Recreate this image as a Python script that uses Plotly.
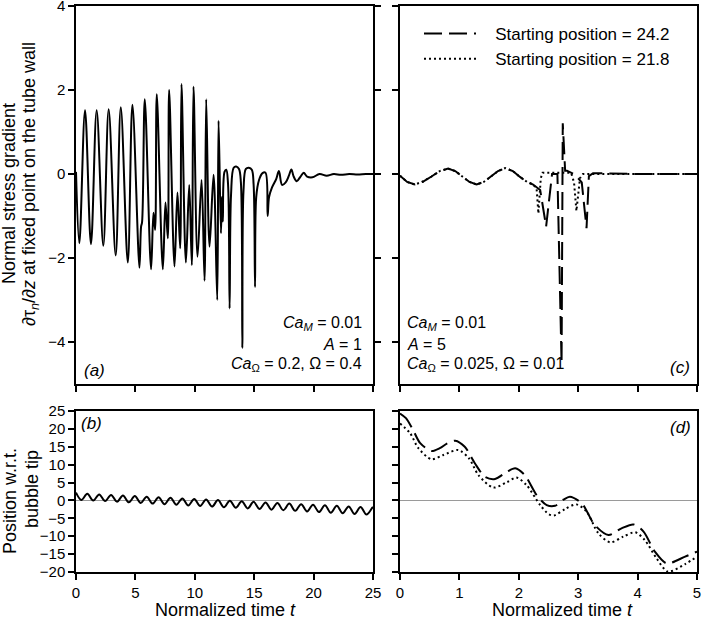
import plotly.graph_objects as go

# ---------------- data ----------------
# Panel (a): normal stress gradient, t in [0, 25]
a_t = [0.00, 0.28, 0.76, 1.26, 1.74, 2.30, 2.75, 3.34, 3.77, 4.36, 4.75, 5.34, 5.48, 5.56, 5.79,
       6.32, 6.52, 6.66, 6.80, 7.31, 7.53, 7.73, 7.84, 8.29, 8.54, 8.77, 8.88, 9.25, 9.53, 9.75, 9.89,
       10.23, 10.57, 10.82, 10.96, 11.24, 11.58, 11.89, 12.00, 12.20, 12.28, 12.36, 12.50, 12.65, 12.80,
       12.93, 13.05, 13.27, 13.48, 13.72, 13.88, 14.00, 14.10, 14.30, 14.55, 14.80, 14.95, 15.07, 15.17,
       15.40, 15.70, 15.95, 16.13, 16.25, 16.50, 16.85, 17.08, 17.35, 17.65, 17.92, 18.13, 18.32, 18.58,
       18.90, 19.17, 19.45, 19.90, 20.50, 21.10, 21.70, 22.30, 23.00, 23.70, 24.40, 25.00]
a_v = [0.05, -1.65, 1.52, -1.67, 1.52, -1.71, 1.54, -1.94, 1.59, -2.11, 1.65, -2.23, -1.25, -1.15, 1.78,
       -2.27, -0.92, -1.33, 1.90, -2.27, -0.68, -1.53, 2.00, -2.20, -0.44, -1.77, 2.14, -2.11, -0.26, -2.17, 2.08,
       -1.97, -0.14, -2.54, 1.78, -1.73, -0.02, -3.00, 1.27, -1.41, -0.55, -1.13, 0.05, 0.10, -0.25,
       -3.20, -0.50, 0.15, 0.18, 0.12, -0.20, -4.14, -0.40, 0.12, 0.15, 0.10, -0.25, -2.69, -0.55,
       -0.15, 0.02, 0.03, -1.00, -0.55, -0.32, -0.12, 0.07, -0.26, -0.20, -0.04, 0.11, -0.06, -0.17,
       -0.06, 0.03, -0.06, -0.08, 0.00, -0.04, 0.00, -0.02, 0.00, -0.01, 0.00, 0.00]

# Panel (b): position w.r.t. bubble tip, t in [0, 25]
b_t = [0.00, 0.45, 0.95, 1.45, 1.95, 2.45, 2.95, 3.45, 3.95, 4.45, 4.95, 5.45, 5.95, 6.45, 6.95,
       7.45, 7.95, 8.45, 8.95, 9.45, 9.95, 10.45, 10.95, 11.45, 11.95, 12.45, 12.95, 13.45, 13.95,
       14.45, 14.95, 15.45, 15.95, 16.45, 16.95, 17.45, 17.95, 18.45, 18.95, 19.45, 19.95, 20.45,
       20.95, 21.45, 21.95, 22.45, 22.95, 23.45, 23.95, 24.45, 24.95, 25.00]
b_v = [2.20, 0.15, 1.85, -0.02, 1.69, -0.19, 1.53, -0.36, 1.37, -0.53, 1.21, -0.70, 1.05, -0.87, 0.89,
       -1.04, 0.73, -1.21, 0.57, -1.38, 0.41, -1.55, 0.25, -1.72, 0.09, -1.89, -0.07, -2.06, -0.23,
       -2.23, -0.39, -2.40, -0.55, -2.57, -0.71, -2.74, -0.87, -2.91, -1.03, -3.08, -1.19, -3.25,
       -1.35, -3.42, -1.51, -3.59, -1.67, -3.76, -1.83, -3.93, -2.00, -1.90]

# Panel (c): stress gradient for two starting positions, t in [0, 5]
c_t_242 = [0.00, 0.12, 0.25, 0.39, 0.53, 0.67, 0.81, 0.93, 1.05, 1.17, 1.29, 1.41, 1.53, 1.65, 1.77,
           1.90, 2.02, 2.14, 2.24, 2.36, 2.46, 2.52, 2.56, 2.65, 2.70, 2.72, 2.74, 2.78, 2.81, 2.95,
           3.06, 3.14, 3.18, 3.25, 4.00, 5.00]
c_v_242 = [-0.04, -0.19, -0.25, -0.18, -0.06, 0.07, 0.13, 0.07, -0.06, -0.19, -0.25, -0.19, -0.06, 0.07, 0.14,
           0.07, -0.07, -0.19, -0.25, -0.38, -1.25, -0.40, 0.00, 0.00, -3.24, -4.50, 1.21, 0.08, 0.08, -0.02,
           -0.20, -1.29, -0.05, 0.02, 0.00, 0.00]
c_t_218 = [0.00, 0.12, 0.25, 0.39, 0.53, 0.67, 0.81, 0.93, 1.05, 1.17, 1.29, 1.41, 1.53, 1.65, 1.77,
           1.90, 2.02, 2.14, 2.24, 2.30, 2.33, 2.37, 2.40, 2.88, 2.93, 2.97, 3.03, 3.08, 5.00]
c_v_218 = [-0.04, -0.19, -0.25, -0.18, -0.06, 0.07, 0.13, 0.07, -0.06, -0.19, -0.25, -0.19, -0.06, 0.07, 0.14,
           0.07, -0.07, -0.19, -0.25, -0.35, -0.94, -0.10, 0.03, 0.03, -0.20, -0.88, -0.10, 0.00, 0.00]

# Panel (d): position for two starting positions, t in [0, 5]
d_t_242 = [0.00, 0.10, 0.22, 0.34, 0.53, 0.67, 0.80, 0.93, 1.09, 1.26, 1.43, 1.60, 1.80, 1.94, 2.10,
           2.30, 2.47, 2.61, 2.75, 2.86, 3.06, 3.28, 3.51, 3.73, 3.93, 4.10, 4.29, 4.49, 4.80, 5.00]
d_v_242 = [24.3, 23.0, 19.7, 16.0, 13.8, 14.6, 16.0, 16.7, 15.0, 10.4, 6.6, 6.0, 8.0, 9.0, 7.1,
           1.5, -1.3, -1.5, 0.2, 1.05, -0.8, -6.9, -9.65, -7.8, -6.7, -8.7, -14.3, -17.6, -15.7, -14.3]
d_t_218 = [0.00, 0.17, 0.31, 0.53, 0.73, 0.98, 1.16, 1.32, 1.57, 1.80, 1.96, 2.13, 2.36, 2.50, 2.59,
           2.78, 2.97, 3.14, 3.34, 3.54, 3.76, 3.96, 4.12, 4.32, 4.51, 4.80, 5.00]
d_v_218 = [21.5, 18.8, 14.6, 11.5, 12.7, 14.1, 11.8, 7.1, 3.6, 5.1, 6.4, 4.3, -1.3, -3.8, -4.2,
           -2.4, -1.1, -3.1, -9.2, -11.7, -10.1, -8.9, -11.05, -16.2, -19.9, -17.8, -15.7]

legend_names = ["Starting position = 24.2", "Starting position = 21.8"]

# ---------------- layout geometry ----------------
W, H = 702, 628
ML, MR, MT, MB = 76, 5, 6, 56
PW, PH = W - ML - MR, H - MT - MB


def px(x):
    return (x - ML) / PW


def py(y):
    return (H - MB - y) / PH


FONT = "Liberation Sans, Arial, Helvetica, sans-serif"
DASH = "18px,7px"
DOT = "2px,3px"
NB = "\u00a0\u00a0\u00a0"

fig = go.Figure()
fig.add_trace(go.Scatter(x=a_t, y=a_v, mode="lines", line=dict(color="black", width=2, shape="spline", smoothing=1),
                         xaxis="x", yaxis="y", showlegend=False))
fig.add_trace(go.Scatter(x=c_t_242, y=c_v_242, mode="lines", name=NB + legend_names[0],
                         line=dict(color="black", width=2, dash=DASH), xaxis="x2", yaxis="y2"))
fig.add_trace(go.Scatter(x=c_t_218, y=c_v_218, mode="lines", name=NB + legend_names[1],
                         line=dict(color="black", width=2, dash=DOT), xaxis="x2", yaxis="y2"))
fig.add_trace(go.Scatter(x=b_t, y=b_v, mode="lines", line=dict(color="black", width=2, shape="spline", smoothing=1),
                         xaxis="x3", yaxis="y3", showlegend=False))
fig.add_trace(go.Scatter(x=d_t_242, y=d_v_242, mode="lines", line=dict(color="black", width=2, dash=DASH, shape="spline", smoothing=0.8),
                         xaxis="x4", yaxis="y4", showlegend=False))
fig.add_trace(go.Scatter(x=d_t_218, y=d_v_218, mode="lines", line=dict(color="black", width=2, dash=DOT, shape="spline", smoothing=0.8),
                         xaxis="x4", yaxis="y4", showlegend=False))

xl = [0, px(373)]
xr = [px(400), 1]
yt = [py(384), 1]
yb = [0, py(411)]

common = dict(showline=True, linecolor="black", linewidth=1.5, ticks="outside", ticklen=6, tickwidth=1.5,
              tickcolor="black", showgrid=False, zeroline=False, automargin=False, ticklabeloverflow="allow",
              tickfont=dict(family=FONT, size=15, color="black"))

fig.update_layout(
    width=W, height=H, margin=dict(l=ML, r=MR, t=MT, b=MB, autoexpand=False),
    paper_bgcolor="white", plot_bgcolor="white",
    font=dict(family=FONT, size=15, color="black"),
    xaxis=dict(domain=xl, anchor="y", range=[0, 25], dtick=5, showticklabels=False, mirror=True, **common),
    yaxis=dict(domain=yt, anchor="x", range=[-5, 4], tickvals=[-4, -2, 0, 2, 4], mirror="ticks", **common),
    xaxis2=dict(domain=xr, anchor="y2", range=[0, 5], dtick=1, showticklabels=False, mirror=True, **common),
    yaxis2=dict(domain=yt, anchor="x2", range=[-5, 4], tickvals=[-4, -2, 0, 2, 4], showticklabels=False, mirror=True, **common),
    xaxis3=dict(domain=xl, anchor="y3", range=[0, 25], dtick=5, mirror=True, **common),
    yaxis3=dict(domain=yb, anchor="x3", range=[-20, 25], dtick=5, mirror=True,
                **{**common, "zeroline": True}, zerolinecolor="#9a9a9a", zerolinewidth=1),
    yaxis5=dict(overlaying="y3", anchor="x3", side="right", range=[-20, 25], dtick=5, showticklabels=False,
                showline=False, ticks="inside", ticklen=6, tickwidth=1.5, tickcolor="black", showgrid=False,
                zeroline=False, automargin=False),
    xaxis4=dict(domain=xr, anchor="y4", range=[0, 5], dtick=1, mirror=True, **common),
    yaxis4=dict(domain=yb, anchor="x4", range=[-20, 25], dtick=5, showticklabels=False, mirror=True,
                **{**common, "zeroline": True}, zerolinecolor="#9a9a9a", zerolinewidth=1),
    legend=dict(x=px(419), y=py(16), xanchor="left", yanchor="top", bgcolor="rgba(0,0,0,0)",
                font=dict(family=FONT, size=17, color="black"), itemwidth=52, tracegroupgap=0),
)

ann = []


def add_text(text, x, y, xanchor="center", yanchor="middle", size=16, angle=0):
    ann.append(dict(text=text, x=px(x), y=py(y), xref="paper", yref="paper", xanchor=xanchor,
                    yanchor=yanchor, showarrow=False, textangle=angle,
                    font=dict(family=FONT, size=size, color="black")))


# axis titles
add_text("Normal stress gradient", 9, 194, size=18, angle=-90)
add_text("∂τ<sub><i>n</i></sub>/∂<i>z</i> at fixed point on the tube wall", 30, 184, size=18, angle=-90)
add_text("Position w.r.t.", 10, 501, size=18, angle=-90)
add_text("bubble tip", 32, 489, size=18, angle=-90)
add_text("Normalized time <i>t</i>", 225, 610, size=18)
add_text("Normalized time <i>t</i>", 562, 610, size=18)

# panel labels
add_text("<i>(a)</i>", 82, 370, xanchor="left", size=17)
add_text("<i>(c)</i>", 692, 367, xanchor="right", size=17)
add_text("<i>(b)</i>", 79, 424, xanchor="left", size=17)
add_text("<i>(d)</i>", 693, 427, xanchor="right", size=17)

# parameter text
add_text("<i>Ca</i><sub><i>M</i></sub> = 0.01", 364, 323, xanchor="right")
add_text("<i>A</i> = 1", 364, 344, xanchor="right")
add_text("<i>Ca</i><sub>Ω</sub> = 0.2, Ω = 0.4", 364, 364, xanchor="right")
add_text("<i>Ca</i><sub><i>M</i></sub> = 0.01", 405, 323, xanchor="left")
add_text("<i>A</i> = 5", 405, 344, xanchor="left")
add_text("<i>Ca</i><sub>Ω</sub> = 0.025, Ω = 0.01", 405, 364, xanchor="left")

fig.update_layout(annotations=ann)
fig.write_html("out.html", config={"displayModeBar": False},
               post_script="document.body.style.margin='0';document.body.style.overflow='hidden';")
